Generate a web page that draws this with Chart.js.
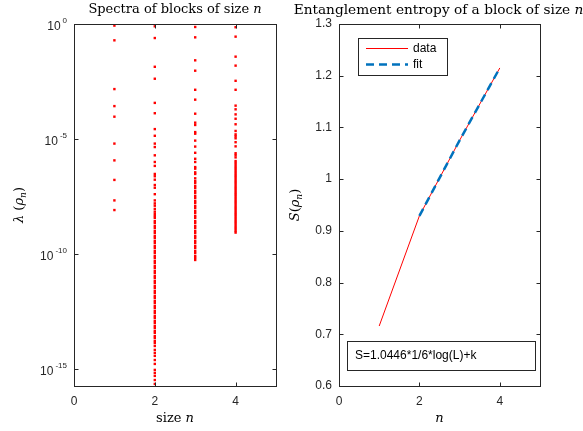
<!DOCTYPE html>
<html>
<head>
<meta charset="utf-8">
<script src="https://cdn.jsdelivr.net/npm/chart.js@4"></script>
<style>
  html, body { margin: 0; padding: 0; background: #fff; }
  #wrap { position: relative; width: 583px; height: 431px; }
  canvas { position: absolute; top: 0; }
  #left { left: 0; }
  #right { left: 280px; }
</style>
</head>
<body>
<div id="wrap">
  <canvas id="left" width="290" height="431"></canvas>
  <canvas id="right" width="303" height="431"></canvas>
</div>
<script>
// log10 of the eigenvalues of the reduced density matrix, per block size
const blockSizes = [1, 2, 3, 4];
const spectrumLog1 = [-0.07, -0.71, -2.83, -3.57, -4.03, -5.20, -5.93, -6.78, -7.67, -8.09];
const spectrumLog2 = [
  -0.10, -0.61, -1.86, -2.38, -3.43, -3.88, -4.57, -4.86, -5.20, -5.35, -5.71, -6.00, -6.17,
  -6.52, -6.62, -6.77, -7.00, -7.12, -7.40, -7.67, -7.80, -7.90, -8.04, -8.16, -8.26,
  -8.35, -8.43, -8.57, -8.65, -8.78, -8.87, -9.00, -9.09, -9.22, -9.30, -9.43, -9.52,
  -9.65, -9.74, -9.87, -9.96, -10.09, -10.17, -10.30, -10.39, -10.52, -10.61, -10.74,
  -10.83, -10.96, -11.04, -11.17, -11.26, -11.39, -11.48, -11.61, -11.70, -11.83, -11.91,
  -12.04, -12.13, -12.26, -12.35, -12.48, -12.57, -12.70, -12.78, -12.91, -13.00, -13.13,
  -13.22, -13.35, -13.43, -13.57, -13.65, -13.78, -13.87, -14.00, -14.17, -14.30, -14.43,
  -14.61, -14.78, -15.04, -15.17, -15.30, -15.48, -15.65
];
const spectrumLog3 = [
  -0.13, -0.58, -1.58, -2.03, -2.86, -3.29, -3.90, -4.29, -4.39, -4.70, -4.77, -5.07, -5.33,
  -5.60, -5.86, -6.00, -6.22, -6.29, -6.45, -6.52, -6.71, -6.83, -6.91, -7.04, -7.13, -7.26,
  -7.35, -7.48, -7.57, -7.70, -7.78, -7.91, -8.00, -8.13, -8.22, -8.35, -8.43, -8.57, -8.65,
  -8.78, -8.87, -9.00, -9.09, -9.22, -9.30, -9.43, -9.52, -9.65, -9.74, -9.87, -9.96,
  -10.09, -10.17, -10.26
];
const spectrumLog4 = [
  -0.14, -0.55, -1.42, -1.81, -2.47, -2.86, -3.55, -3.71, -3.93, -4.12, -4.36, -4.65, -4.80,
  -4.88, -4.97, -5.14, -5.32, -5.62, -5.70, -5.80, -5.96, -6.04, -6.13, -6.22, -6.30,
  -6.39, -6.48, -6.57, -6.65, -6.74, -6.83, -6.91, -7.00, -7.09, -7.17, -7.26, -7.35, -7.43,
  -7.52, -7.61, -7.70, -7.78, -7.87, -7.96, -8.04, -8.13, -8.22, -8.30, -8.39, -8.48, -8.57,
  -8.65, -8.74, -8.83, -8.91, -9.00, -9.07
];

// entanglement entropy and the fit
const entropyN = [1, 2, 3, 4];
const entropyS = [0.716, 0.929, 1.075, 1.215];
const fitN = [2, 3, 4];
const fitS = [0.929, 1.075, 1.215];

const xTicks = [0, 2, 4];
const leftYTickExp = [-15, -10, -5, 0];
const rightYTicks = [0.6, 0.7, 0.8, 0.9, 1.0, 1.1, 1.2, 1.3];
const fitText = "S=1.0446*1/6*log(L)+k";

const AX = "#262626";
const SANS = "'Liberation Sans', Arial, sans-serif";
const SERIF = "'DejaVu Serif', 'Liberation Serif', serif";

function fontFor(style, size) {
  const it = style === "i" || style === "sub";
  const s = style === "sub" ? size * 0.7 : size;
  return (it ? "italic " : "") + s + "px " + SERIF;
}

// parts: [[text, style]], style '' | 'i' | 'sub'
function drawRich(ctx, parts, cx, cy, size) {
  let w = 0;
  parts.forEach(p => { ctx.font = fontFor(p[1], size); w += ctx.measureText(p[0]).width; });
  let x = cx - w / 2;
  parts.forEach(p => {
    ctx.font = fontFor(p[1], size);
    const dy = p[1] === "sub" ? size * 0.28 : 0;
    ctx.fillText(p[0], x, cy + dy);
    x += ctx.measureText(p[0]).width;
  });
}

function axesPlugin(o) {
  return {
    id: "matlabAxes",
    afterDraw(chart) {
      const { ctx, chartArea: a, scales: { x, y } } = chart;
      ctx.save();
      ctx.strokeStyle = AX;
      ctx.lineWidth = 1;
      const L = Math.round(a.left) + 0.5, R = Math.round(a.right) + 0.5;
      const T = Math.round(a.top) + 0.5, B = Math.round(a.bottom) + 0.5;
      ctx.strokeRect(L, T, R - L, B - T);
      const tl = 4;
      ctx.beginPath();
      x.ticks.forEach(t => {
        const px = Math.round(x.getPixelForValue(t.value)) + 0.5;
        ctx.moveTo(px, B); ctx.lineTo(px, B - tl);
        ctx.moveTo(px, T); ctx.lineTo(px, T + tl);
      });
      y.ticks.forEach(t => {
        const py = Math.round(y.getPixelForValue(t.value)) + 0.5;
        ctx.moveTo(L, py); ctx.lineTo(L + tl, py);
        ctx.moveTo(R, py); ctx.lineTo(R - tl, py);
      });
      ctx.stroke();

      ctx.fillStyle = AX;
      ctx.font = "12px " + SANS;
      ctx.textAlign = "center";
      ctx.textBaseline = "middle";
      x.ticks.forEach(t => ctx.fillText(String(t.value), x.getPixelForValue(t.value), a.bottom + 16));
      y.ticks.forEach(t => o.yLabel(ctx, t.value, a.left - 7, y.getPixelForValue(t.value)));

      ctx.fillStyle = "#000";
      ctx.textAlign = "left";
      ctx.textBaseline = "middle";
      drawRich(ctx, o.title, (a.left + a.right) / 2 + (o.titleShift || 0), 10, o.titleSize);
      drawRich(ctx, o.xTitle, (a.left + a.right) / 2, a.bottom + 33, 13);
      ctx.translate(o.yTitleX, (a.top + a.bottom) / 2);
      ctx.rotate(-Math.PI / 2);
      drawRich(ctx, o.yTitle, 0, 0, 13);
      ctx.restore();
      if (o.extra) o.extra(chart);
    }
  };
}

function powLabel(ctx, v, right, py) {
  const e = String(Math.round(Math.log10(v)));
  ctx.save();
  ctx.textAlign = "left";
  ctx.font = "8px " + SANS;
  const ws = ctx.measureText(e).width;
  ctx.font = "12px " + SANS;
  const wb = ctx.measureText("10").width;
  const x0 = right - ws - wb - 2;
  ctx.fillText("10", x0, py + 3);
  ctx.font = "8px " + SANS;
  ctx.fillText(e, x0 + wb + 2, py - 3);
  ctx.restore();
}

const spectra = [spectrumLog1, spectrumLog2, spectrumLog3, spectrumLog4];
const leftPoints = [];
spectra.forEach((arr, i) => arr.forEach(e => leftPoints.push({ x: blockSizes[i], y: Math.pow(10, e) })));

new Chart(document.getElementById("left"), {
  type: "scatter",
  data: {
    datasets: [{
      data: leftPoints,
      backgroundColor: "#ff0000",
      borderWidth: 0,
      pointRadius: 1.7,
      pointStyle: "rect"
    }]
  },
  options: {
    responsive: false,
    animation: false,
    layout: { padding: { left: 0, right: 14, top: 24, bottom: 0 } },
    plugins: { legend: { display: false }, tooltip: { enabled: false } },
    scales: {
      x: {
        type: "linear", min: 0, max: 5,
        grid: { display: false }, border: { display: false },
        ticks: { display: false },
        afterBuildTicks: s => { s.ticks = xTicks.map(v => ({ value: v })); },
        afterFit: s => { s.height = 45; }
      },
      y: {
        type: "logarithmic", min: Math.pow(10, -15.74), max: 1,
        grid: { display: false }, border: { display: false },
        ticks: { display: false },
        afterBuildTicks: s => { s.ticks = leftYTickExp.map(e => ({ value: Math.pow(10, e) })); },
        afterFit: s => { s.width = 74; }
      }
    }
  },
  plugins: [axesPlugin({
    title: [["Spectra of blocks of size ", ""], ["n", "i"]],
    titleSize: 13,
    xTitle: [["size ", ""], ["n", "i"]],
    yTitle: [["λ", "i"], [" (", ""], ["ρ", "i"], ["n", "sub"], [")", ""]],
    yTitleX: 20,
    yLabel: powLabel
  })]
});

function drawLegendAndNote(chart) {
  const { ctx, chartArea: a } = chart;
  ctx.save();
  ctx.strokeStyle = "#262626";
  ctx.lineWidth = 1;
  ctx.fillStyle = "#fff";
  const lx = Math.round(a.left + 19) + 0.5, ly = 38.5;
  ctx.fillRect(lx, ly, 89, 37);
  ctx.strokeRect(lx, ly, 89, 37);
  ctx.beginPath();
  ctx.strokeStyle = "#ff0000";
  ctx.moveTo(a.left + 27, 48.5); ctx.lineTo(a.left + 69, 48.5);
  ctx.stroke();
  ctx.beginPath();
  ctx.strokeStyle = "#0072bd";
  ctx.lineWidth = 2.5;
  ctx.setLineDash([8, 5]);
  ctx.moveTo(a.left + 27, 64.5); ctx.lineTo(a.left + 69, 64.5);
  ctx.stroke();
  ctx.setLineDash([]);
  ctx.fillStyle = "#000";
  ctx.font = "12px " + SANS;
  ctx.textAlign = "left";
  ctx.textBaseline = "middle";
  ctx.fillText("data", a.left + 74, 48.5);
  ctx.fillText("fit", a.left + 74, 64.5);

  ctx.strokeStyle = "#262626";
  ctx.lineWidth = 1;
  const bx = Math.round(a.left + 8) + 0.5;
  ctx.fillStyle = "#fff";
  ctx.fillRect(bx, 341.5, 188, 29);
  ctx.strokeRect(bx, 341.5, 188, 29);
  ctx.fillStyle = "#000";
  ctx.fillText(fitText, a.left + 16, 356);
  ctx.restore();
}

new Chart(document.getElementById("right"), {
  type: "line",
  data: {
    datasets: [
      {
        label: "fit",
        data: fitN.map((n, i) => ({ x: n, y: fitS[i] })),
        borderColor: "#0072bd",
        borderWidth: 2.5,
        borderDash: [8, 5],
        pointRadius: 0,
        fill: false,
        tension: 0,
        order: 0
      },
      {
        label: "data",
        data: entropyN.map((n, i) => ({ x: n, y: entropyS[i] })),
        borderColor: "#ff0000",
        borderWidth: 1,
        pointRadius: 0,
        fill: false,
        tension: 0,
        order: 1
      }
    ]
  },
  options: {
    responsive: false,
    animation: false,
    layout: { padding: { left: 0, right: 43, top: 24, bottom: 0 } },
    plugins: { legend: { display: false }, tooltip: { enabled: false } },
    scales: {
      x: {
        type: "linear", min: 0, max: 5,
        grid: { display: false }, border: { display: false },
        ticks: { display: false },
        afterBuildTicks: s => { s.ticks = xTicks.map(v => ({ value: v })); },
        afterFit: s => { s.height = 45; }
      },
      y: {
        type: "linear", min: 0.6, max: 1.3,
        grid: { display: false }, border: { display: false },
        ticks: { display: false },
        afterBuildTicks: s => { s.ticks = rightYTicks.map(v => ({ value: v })); },
        afterFit: s => { s.width = 59; }
      }
    }
  },
  plugins: [axesPlugin({
    title: [["Entanglement entropy of a block of size ", ""], ["n", "i"]],
    titleSize: 13.7,
    titleShift: -1,
    xTitle: [["n", "i"]],
    yTitle: [["S", "i"], ["(", ""], ["ρ", "i"], ["n", "sub"], [")", ""]],
    yTitleX: 16,
    yLabel: (ctx, v, right, py) => {
      ctx.save();
      ctx.textAlign = "right";
      ctx.fillText(String(Number(v.toFixed(1))), right, py);
      ctx.restore();
    },
    extra: drawLegendAndNote
  })]
});
</script>
</body>
</html>
